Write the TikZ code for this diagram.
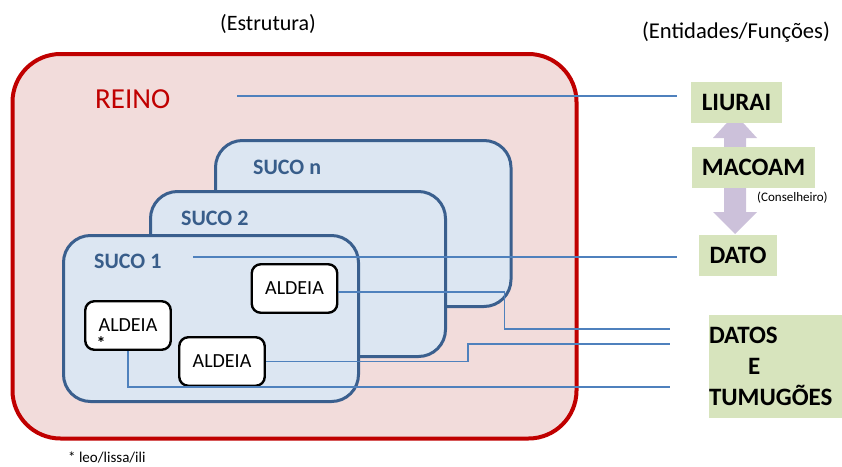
\documentclass[tikz,border=0pt]{standalone}
\usepackage{fontspec}
\setmainfont{Carlito}
\definecolor{reinored}{HTML}{C00000}
\definecolor{reinofill}{HTML}{F2DCDB}
\definecolor{sucoborder}{HTML}{3A5F8E}
\definecolor{sucofill}{HTML}{DCE6F2}
\definecolor{sucotext}{HTML}{385D8A}
\definecolor{connblue}{HTML}{4F81BD}
\definecolor{entgreen}{HTML}{D7E4BD}
\definecolor{arrowc}{HTML}{CCC1DA}
\begin{document}
\begin{tikzpicture}[x=1pt,y=-1pt,
  reino/.style={draw=reinored, line width=4pt, fill=reinofill, rounded corners=48pt},
  suco/.style={draw=sucoborder, line width=3pt, fill=sucofill, rounded corners=27pt},
  aldeia/.style={draw=black, line width=2.4pt, fill=white, rounded corners=9pt,
    minimum width=85.5pt, minimum height=48.5pt, inner sep=0pt,
    font=\fontsize{20}{24}\selectfont},
  conn/.style={draw=connblue, line width=1.2pt},
  ent/.style={fill=entgreen, inner sep=0pt, minimum height=41pt,
    font=\bfseries\fontsize{25}{31}\selectfont},
  sucolbl/.style={anchor=base west, inner sep=0pt, text=sucotext,
    font=\bfseries\fontsize{22}{26}\selectfont},
  plain/.style={inner sep=0pt}
]
\useasboundingbox (0,0) rectangle (842,466);

% headers
\node[plain, font=\fontsize{22}{26}\selectfont] (estr) at (268,24) {(Estrutura)};
\node[plain, font=\fontsize{22.6}{26}\selectfont] (entid) at (736,32) {(Entidades/Funções)};

% reino
\draw[reino] (12.5,54) rectangle (576.5,438.5);
\node[plain, anchor=base west, text=reinored, font=\fontsize{29}{34}\selectfont] (reinolbl) at (95,108) {REINO};

% sucos
\draw[suco] (215.5,140.5) rectangle (511,306.5);
\draw[suco] (150.5,191.5) rectangle (445.5,356.5);
\draw[suco] (63.5,235.5) rectangle (358.5,401.5);
\node[sucolbl] (sucon) at (253,174) {SUCO n};
\node[sucolbl] (suco2) at (181,225) {SUCO 2};
\node[sucolbl] (suco1) at (94,268) {SUCO 1};

% aldeias
\node[aldeia] (a1) at (294.5,288.5) {ALDEIA};
\node[aldeia] (a2) at (128,325.5) {ALDEIA};
\node[aldeia] (a3) at (222,361.5) {ALDEIA};
\node[plain, font=\bfseries\fontsize{18}{20}\selectfont] (ast) at (101,343.5) {*};

% footer
\node[plain, anchor=west, font=\fontsize{15}{18}\selectfont] (foot) at (68,457) {* leo/lissa/ili};

% arrow
\fill[arrowc] (735,114) -- (757,138) -- (746,138) -- (746,212) -- (757,212) -- (735,234)
  -- (713,212) -- (724,212) -- (724,138) -- (713,138) -- cycle;

% entity boxes
\node[ent, minimum width=91pt] (liurai) at (736.5,102.5) {LIURAI};
\node[ent, minimum width=123pt] (macoam) at (753.5,167.5) {MACOAM};
\node[ent, minimum width=78pt] (dato) at (738,255.5) {DATO};
\node[ent, minimum height=103pt, text width=133pt, inner xsep=0pt, align=left] (datos) at (775.5,366.5)
  {DATOS\\\hspace*{39pt}E\\TUMUGÕES};
\node[plain, anchor=west, font=\fontsize{13}{15}\selectfont] (cons) at (757,198) {(Conselheiro)};

% connectors
\coordinate (c1) at (237,96);
\coordinate (c1e) at (677,96);
\coordinate (c2) at (193,257);
\coordinate (c2e) at (677,257);
\coordinate (e3) at (670,329);
\coordinate (e4) at (670,344);
\coordinate (e5) at (670,387);
\draw[conn] (c1) -- (c1e);
\draw[conn] (c2) -- (c2e);
\draw[conn] ([yshift=-3.5pt]a1.east) -- ++(166,0) |- (e3);
\draw[conn] (a3.east) -- ++(202,0) |- (e4);
\draw[conn] (a2.south) |- (e5);
\end{tikzpicture}
\end{document}
